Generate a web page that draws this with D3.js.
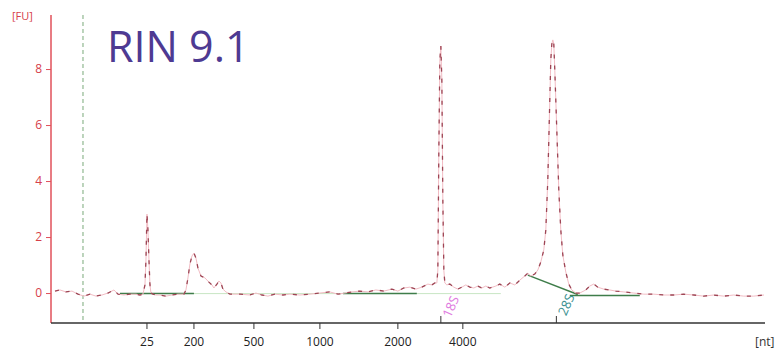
<!DOCTYPE html>
<html>
<head>
<meta charset="utf-8">
<script src="https://cdn.jsdelivr.net/npm/d3@7"></script>
<style>
  html, body { margin: 0; padding: 0; background: #fff; }
  svg { display: block; }
</style>
</head>
<body>
<svg id="chart" width="777" height="352"></svg>
<script>
// Electropherogram trace: migration time (s) and fluorescence (FU)
const traceTime = [19.28,19.63,20.05,20.47,20.89,21.31,21.73,22.15,22.57,22.99,23.41,23.69,24.11,24.53,24.95,25.23,25.44,25.58,25.65,25.72,25.79,25.86,25.93,26.00,26.14,26.35,26.63,27.05,27.47,27.89,28.31,28.45,28.59,28.73,28.87,29.01,29.15,29.29,29.50,29.78,30.06,30.27,30.41,30.62,30.76,30.90,31.04,31.25,31.53,32.23,32.93,33.35,33.77,34.19,34.68,35.24,35.73,36.43,37.13,37.83,38.53,39.09,39.58,40.07,40.63,41.19,41.75,42.31,42.87,43.29,43.71,44.13,44.55,44.97,45.39,45.67,45.88,46.02,46.09,46.16,46.23,46.30,46.37,46.44,46.51,46.58,46.72,46.93,47.21,47.49,47.77,48.05,48.33,48.61,48.89,49.17,49.45,49.73,50.15,50.43,50.78,51.13,51.48,51.83,52.18,52.39,52.60,52.88,53.09,53.30,53.51,53.65,53.79,53.93,54.00,54.07,54.14,54.21,54.28,54.42,54.56,54.70,54.84,55.05,55.26,55.47,55.75,56.03,56.45,56.73,57.01,57.29,57.71,58.13,58.55,59.11,59.81,60.51,61.21,61.91,62.61,63.31,64.01,64.71,65.41,66.11,66.81,67.51,68.21,68.93];
const traceFU = [0.07,0.11,0.04,0.07,-0.04,-0.11,-0.04,-0.11,-0.07,0,0.11,-0.04,-0.07,-0.04,-0.04,-0.07,-0.04,0.29,1.18,2.82,2.25,1.18,0.29,0,-0.04,-0.07,-0.07,-0.11,-0.07,-0.04,-0.04,0.11,0.54,1.04,1.32,1.43,1.25,0.89,0.61,0.54,0.39,0.29,0.18,0.32,0.43,0.36,0.14,0.04,-0.04,-0.04,-0.07,0,-0.07,-0.11,-0.04,-0.07,-0.04,-0.07,-0.04,0,0.04,-0.04,0,0.04,0.07,0.04,0.11,0.07,0.14,0.07,0.18,0.21,0.14,0.21,0.32,0.29,0.36,0.36,0.82,5.11,8.32,8.82,7.61,3.32,0.82,0.36,0.29,0.32,0.21,0.14,0.21,0.29,0.21,0.18,0.25,0.18,0.25,0.18,0.25,0.32,0.21,0.36,0.29,0.46,0.61,0.71,0.61,0.68,0.82,1.11,1.54,2.25,4.04,6.89,8.32,8.89,9.04,8.89,7.96,5.82,3.68,2.25,1.36,0.75,0.32,0.11,0,0,0.11,0.25,0.32,0.21,0.14,0.11,0.07,0.04,0,-0.04,-0.04,-0.07,-0.07,-0.04,-0.07,-0.11,-0.07,-0.11,-0.07,-0.11,-0.11,-0.07];

// Ladder sizes (nt) and their migration times (s)
const ladderLabels = ["25", "200", "500", "1000", "2000", "4000"];
const ladderTimes = [25.72, 29.01, 33.21, 37.83, 43.29, 47.84];

// Ribosomal peaks
const peakLabels = ["18S", "28S"];
const peakTimes = [46.30, 54.39];

// Fluorescence ticks
const fuTicks = [0, 2, 4, 6, 8];

// Lower-marker time
const markerTime = 21.24;

// Integration baselines: [t0, fu0, t1, fu1]
const baselineStrong = [[23.83, -0.02, 29.01, -0.02], [39.44, -0.02, 44.62, -0.02],
                        [52.39, 0.64, 55.89, -0.05], [55.33, -0.09, 60.23, -0.09]];
const baselineFaint = [[29.01, -0.02, 39.44, -0.02], [44.62, -0.02, 50.5, -0.02]];

const rinText = "RIN 9.1";

const svg = d3.select("#chart");
const x = d3.scaleLinear().domain([19, 69]).range([51, 765]);
const y = d3.scaleLinear().domain([-1.07, 9.93]).range([323, 15]);

const FONT = "'Open Sans', 'Noto Sans', sans-serif";

svg.append("defs").append("clipPath").attr("id", "plot")
  .append("rect").attr("x", 52).attr("y", 15).attr("width", 713).attr("height", 307);

// Lower marker
svg.append("line")
  .attr("x1", x(markerTime)).attr("x2", x(markerTime))
  .attr("y1", 15).attr("y2", 323)
  .attr("stroke", "#7aa97a").attr("stroke-width", 1)
  .attr("stroke-dasharray", "4,3");

// Baselines
const bl = svg.append("g");
bl.selectAll("line.faint").data(baselineFaint).join("line")
  .attr("class", "faint")
  .attr("x1", d => x(d[0])).attr("y1", d => y(d[1]))
  .attr("x2", d => x(d[2])).attr("y2", d => y(d[3]))
  .attr("stroke", "#c8e6c4").attr("stroke-width", 1);
bl.selectAll("line.strong").data(baselineStrong).join("line")
  .attr("class", "strong")
  .attr("x1", d => x(d[0])).attr("y1", d => y(d[1]))
  .attr("x2", d => x(d[2])).attr("y2", d => y(d[3]))
  .attr("stroke", "#3f7d4a").attr("stroke-width", 1.5);

// Trace: pale continuous line with darker broken overlay
const pts = traceTime.map((t, i) => [t, traceFU[i]]);
const line = d3.line().x(d => x(d[0])).y(d => y(d[1]));
const tg = svg.append("g").attr("clip-path", "url(#plot)");
tg.append("path").attr("d", line(pts))
  .attr("fill", "none").attr("stroke", "#f2bcc4").attr("stroke-width", 1);
tg.append("path").attr("d", line(pts))
  .attr("fill", "none").attr("stroke", "#8e2f3f").attr("stroke-width", 1.3)
  .attr("stroke-opacity", 0.85)
  .attr("stroke-dasharray", "4,7");

// Y axis
const yAxis = d3.axisLeft(y).tickValues(fuTicks).tickSize(5).tickPadding(4);
const yg = svg.append("g").attr("transform", "translate(51,0)").call(yAxis);
yg.select(".domain").attr("d", `M0,15V323`).attr("stroke", "#e0505a").attr("stroke-width", 1.5);
yg.selectAll(".tick line").attr("stroke", "#e0505a");
yg.selectAll(".tick text").attr("fill", "#d6404a").attr("font-family", FONT).attr("font-size", 12);

svg.append("text").attr("x", 12).attr("y", 20)
  .attr("fill", "#d6404a").attr("font-family", FONT).attr("font-size", 11)
  .text("[FU]");

// X axis
const xg = svg.append("g").attr("transform", "translate(0,323)");
xg.append("line").attr("x1", 51).attr("x2", 765).attr("stroke", "#333").attr("stroke-width", 1.5);
xg.selectAll("line.ltick").data(ladderTimes).join("line")
  .attr("class", "ltick")
  .attr("x1", d => x(d)).attr("x2", d => x(d)).attr("y1", 0).attr("y2", 6)
  .attr("stroke", "#333");
xg.selectAll("text.ltxt").data(ladderLabels).join("text")
  .attr("class", "ltxt")
  .attr("x", (d, i) => x(ladderTimes[i])).attr("y", 23)
  .attr("text-anchor", "middle").attr("fill", "#222")
  .attr("font-family", FONT).attr("font-size", 12)
  .text(d => d);
xg.selectAll("line.ptick").data(peakTimes).join("line")
  .attr("class", "ptick")
  .attr("x1", d => x(d)).attr("x2", d => x(d)).attr("y1", 0).attr("y2", -7)
  .attr("stroke", "#333");
svg.append("text").attr("x", 755).attr("y", 346)
  .attr("fill", "#333").attr("font-family", FONT).attr("font-size", 12)
  .text("[nt]");

// Peak labels
const peakColors = ["#e07ae0", "#3b8f90"];
const peakOffsets = [[11, 307], [11, 305]];
svg.selectAll("text.plab").data(peakLabels).join("text")
  .attr("class", "plab")
  .attr("transform", (d, i) => `translate(${x(peakTimes[i]) + peakOffsets[i][0]},${peakOffsets[i][1]}) rotate(-66)`)
  .attr("text-anchor", "middle").attr("dominant-baseline", "middle")
  .attr("fill", (d, i) => peakColors[i])
  .attr("font-family", FONT).attr("font-size", 13)
  .text(d => d);

// RIN annotation
svg.append("text").attr("x", 107).attr("y", 62)
  .attr("fill", "#4e3a92").attr("font-family", FONT).attr("font-size", 43)
  .text(rinText);
</script>
</body>
</html>
